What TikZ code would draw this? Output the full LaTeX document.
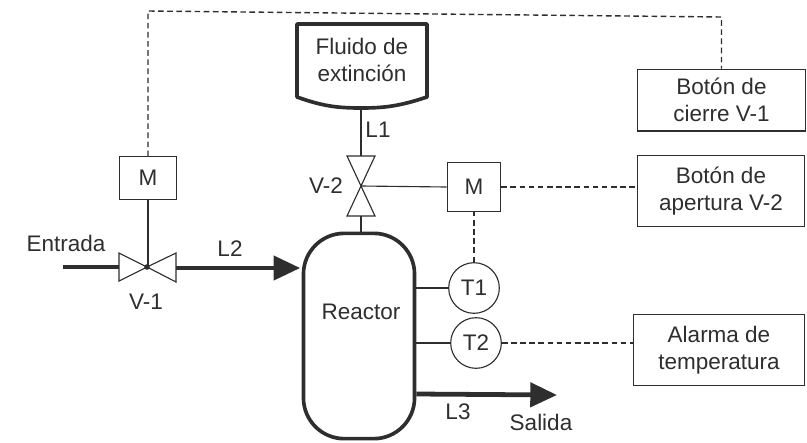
\documentclass[tikz,border=0pt]{standalone}
\usepackage{fontspec}
\setmainfont{Liberation Sans}
\usetikzlibrary{arrows.meta}
\definecolor{tinta}{HTML}{2E2E2E}
\tikzset{
  linea/.style={draw=tinta, line width=0.8pt},
  control/.style={draw=tinta, line width=1pt, dash pattern=on 4pt off 2.5pt},
  grueso/.style={draw=tinta, line width=3.4pt, -{Triangle[length=19pt,width=17pt,fill=tinta]}},
  caja/.style={draw=tinta, line width=0.8pt, minimum width=119pt, inner sep=0pt, align=center},
  motor/.style={draw=tinta, line width=0.8pt, inner sep=0pt},
  sensor/.style={circle, draw=tinta, line width=0.8pt, minimum size=36pt, inner sep=0pt},
  etiqueta/.style={text=tinta, inner sep=0pt, align=center, font=\fontsize{16}{19}\selectfont}
}
\begin{document}
\begin{tikzpicture}[x=0.025cm, y=-0.025cm, every node/.append style={etiqueta}]
\useasboundingbox (0,0) rectangle (807,442);

%Tanque
\draw[draw=tinta, line width=2.6pt, line join=round] (297,24) -- (427,24) -- (427,97) .. controls (400,106) and (385,108) .. (361,108) .. controls (337,108) and (322,106) .. (297,97) -- cycle;
\coordinate (tanque) at (361,108);
\node (fluido) at (362,60) {Fluido de\\extinción};

%Reactor
\node[draw=tinta, line width=2.6pt, rounded corners=29pt, minimum width=79pt, minimum height=146pt, inner sep=0pt] (reactor) at (359,336) {};
\node (txtreactor) at (361,312) {Reactor};

%Valvulas
\coordinate (v2) at (361,186);
\draw[linea, fill=white] (347,156) -- (375,156) -- (v2) -- cycle;
\draw[linea, fill=white] (347,216) -- (375,216) -- (v2) -- cycle;
\coordinate (v2a) at (361,156);
\coordinate (v2b) at (361,216);
\coordinate (v1) at (147,267);
\draw[linea, fill=white] (119,253) -- (119,281) -- (v1) -- cycle;
\draw[linea, fill=white] (176,253) -- (176,282) -- (v1) -- cycle;
\coordinate (v1a) at (119,267);
\coordinate (v1b) at (176,268);
\coordinate (entrada) at (63,267);
\fill[tinta] (v1) circle (2pt);

%Motores
\node[motor, minimum width=40pt, minimum height=30pt] (m1) at (148,178) {M};
\node[motor, minimum width=38pt, minimum height=35pt] (m2) at (474,187) {M};

%Sensores
\node[sensor] (t1) at (474,288) {T1};
\node[sensor] (t2) at (476,343) {T2};

%Botones
\node[caja, minimum height=44pt] (cierre) at (721.5,100) {Botón de\\cierre V-1};
\node[caja, minimum height=50pt] (apertura) at (721,191) {Botón de\\apertura V-2};
\node[caja, minimum width=122pt, minimum height=50pt] (alarma) at (719,350) {Alarma de\\temperatura};

%Lineas de proceso
\draw[linea] (tanque) -- (v2a);
\draw[linea] (v2b) -- (v2b |- reactor.north);
\draw[draw=tinta, line width=3.4pt] (entrada) -- (v1a);
\draw[grueso, shorten >=1pt] (v1b) -- (v1b -| reactor.west);
\coordinate (sale) at (reactor.east |- 0,394);
\coordinate (fin) at (557,395);
\draw[grueso] (sale) -- (fin);

%Lineas de senal
\draw[linea] (v1) -- (v1 -| m1) -- (m1.south);
\draw[linea] (v2) -- (m2.west);
\draw[linea] (reactor.east |- t1) -- (t1.west);
\draw[linea] (reactor.east |- t2) -- (t2.west);
\draw[control] (m1.north) -- (148,11) -- (721.5,17) -- (cierre.north);
\draw[control] (m2.east) -- (m2.east -| apertura.west);
\draw[control] (t1.north) -- (t1.north -| m2) -- (m2.south);
\draw[control] (t2.east) -- (t2.east -| alarma.west);

%Textos
\node (entr) at (66,243) {Entrada};
\node (l2) at (230,249) {L2};
\node (nv1) at (146,302) {V-1};
\node (nv2) at (326,186) {V-2};
\node (l1) at (378,130) {L1};
\node (l3) at (458,412) {L3};
\node (salida) at (541,422) {Salida};
\end{tikzpicture}
\end{document}
